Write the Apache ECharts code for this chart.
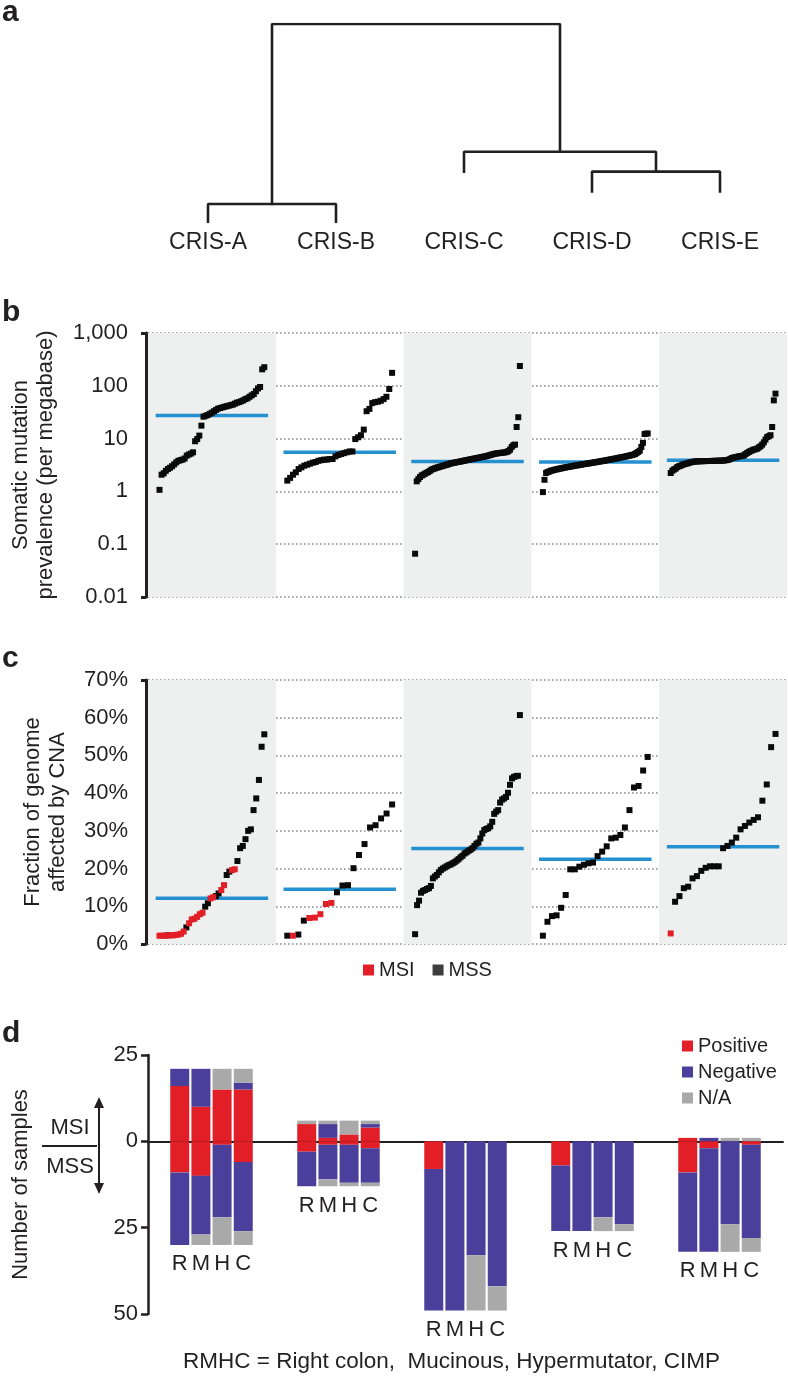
<!DOCTYPE html>
<html>
<head>
<meta charset="utf-8">
<script src="https://cdn.jsdelivr.net/npm/echarts@6/dist/echarts.min.js"></script>
<style>
html,body{margin:0;padding:0;background:#ffffff;}
#chart{width:788px;height:1379px;}
</style>
</head>
<body>
<div id="chart"></div>
<script>
// ================= DATA =================
const groups = ['CRIS-A', 'CRIS-B', 'CRIS-C', 'CRIS-D', 'CRIS-E'];

// (a) dendrogram: leaf hanging ends and merges [leftNode, rightNode, height]
const leafEnd = [0, 0, 2.8, 1.7, 1.7];
const merges = [[0, 1, 1.0], [3, 4, 2.8], [2, 6, 3.9], [5, 7, 11.0]];

// (b) somatic mutation prevalence (per megabase), sorted per subtype
const bTicks = ['0.01', '0.1', '1', '10', '100', '1,000'];
const mutA = [1.07, 2.07, 2.2, 2.45, 2.65, 2.8, 3.0, 3.25, 3.55, 3.8, 3.9, 4.0, 4.2, 4.75, 5.0, 5.2, 5.5, 8.9, 9.8, 11.4,
  17.6, 26, 27, 28, 29.5, 31, 33, 35, 37, 38, 39, 40, 41, 42, 43, 44, 46, 48, 49, 51, 53, 56, 58, 62, 66, 70, 79, 89, 95, 205, 225];
const mutB = [1.6, 1.8, 2.07, 2.3, 2.65, 2.85, 3.07, 3.2, 3.35, 3.5, 3.6, 3.8, 3.9, 4.0, 4.0, 4.1, 4.1, 4.6, 4.9, 5.1,
  5.3, 5.5, 5.7, 5.7, 9.8, 10.6, 11.6, 14.8, 33, 36.5, 47, 49, 50, 52, 56, 62, 87, 176];
const mutC = [0.066, 1.55, 1.71, 1.87, 2.0, 2.07, 2.16, 2.25, 2.33, 2.45, 2.58, 2.65, 2.73, 2.8, 2.86, 2.92, 2.98, 3.05, 3.12, 3.18,
  3.25, 3.32, 3.4, 3.45, 3.5, 3.55, 3.6, 3.65, 3.7, 3.76, 3.82, 3.88, 3.93, 3.99, 4.05, 4.11, 4.17, 4.23, 4.29, 4.35,
  4.42, 4.48, 4.55, 4.62, 4.69, 4.8, 4.9, 5.0, 5.1, 5.18, 5.27, 5.3, 5.35, 5.4, 5.43, 5.5, 5.6, 5.8, 6.2, 6.95,
  7.5, 7.7, 16.6, 25.4, 237];
const mutD = [0.97, 1.66, 2.23, 2.33, 2.38, 2.46, 2.5, 2.55, 2.6, 2.63, 2.68, 2.71, 2.76, 2.8, 2.83, 2.88, 2.9, 2.95, 2.99, 3.02,
  3.07, 3.1, 3.13, 3.18, 3.21, 3.25, 3.3, 3.32, 3.37, 3.4, 3.44, 3.49, 3.52, 3.57, 3.6, 3.65, 3.7, 3.74, 3.79, 3.83,
  3.9, 3.94, 4.0, 4.04, 4.1, 4.16, 4.2, 4.27, 4.33, 4.4, 4.45, 4.5, 4.58, 4.65, 4.72, 4.8, 4.9, 4.97, 5.1, 5.35,
  5.6, 5.9, 6.95, 8.3, 12.2, 12.4, 12.5];
const mutE = [2.23, 2.47, 2.6, 2.7, 2.9, 3.0, 3.07, 3.2, 3.27, 3.33, 3.4, 3.48, 3.55, 3.6, 3.66, 3.69, 3.71, 3.72, 3.73, 3.74,
  3.75, 3.75, 3.76, 3.77, 3.77, 3.78, 3.79, 3.8, 3.8, 3.81, 3.82, 3.83, 3.85, 3.88, 3.93, 4.0, 4.15, 4.3, 4.38, 4.45,
  4.52, 4.6, 4.66, 4.72, 4.8, 5.1, 5.35, 5.6, 5.8, 6.0, 6.2, 6.3, 6.45, 6.8, 7.15, 7.7, 8.5, 9.6, 10.7, 11.1,
  11.6, 16.6, 53, 71];
const mutMedian = [27.5, 5.5, 3.7, 3.6, 3.9];

// (c) fraction of genome affected by CNA (%), sorted; msi* = indices of MSI samples
const cTicks = ['0%', '10%', '20%', '30%', '40%', '50%', '60%', '70%'];
const cnaA = [2.2, 2.2, 2.2, 2.3, 2.3, 2.3, 2.4, 2.5, 2.7, 3.3, 4.4, 5.5, 6.5, 6.7, 7.2, 7.9, 8.3, 9.9, 10.8, 12.1,
  12.4, 12.7, 13.4, 14.3, 15.6, 18.3, 19.2, 19.6, 19.8, 22.0, 25.4, 26.0, 27.8, 30.0, 30.4, 35.5, 38.6, 43.5, 52.3, 55.6];
const msiA = [0, 1, 2, 4, 5, 6, 7, 8, 9, 11, 12, 13, 14, 15, 16, 19, 20, 23, 24, 27, 28];
const cnaB = [2.2, 2.2, 2.5, 6.2, 6.9, 7.0, 7.9, 10.6, 10.9, 13.7, 15.5, 15.6, 20.1, 23.6, 26.5, 30.9, 31.5, 33.3, 34.6, 37.0];
const msiB = [1, 4, 5, 6, 7, 8];
const cnaC = [2.6, 10.3, 11.5, 13.6, 14.1, 14.3, 14.6, 14.8, 15.4, 17.4, 17.9, 18.3, 19.0, 19.6, 20.0, 20.3, 20.6, 20.9, 21.1, 21.4,
  21.7, 22.1, 22.5, 23.0, 23.4, 24.0, 24.3, 24.7, 25.0, 25.4, 26.0, 26.6, 26.9, 28.0, 29.3, 30.2, 30.5, 30.7, 31.2, 32.4,
  34.5, 35.1, 35.5, 37.5, 38.3, 38.6, 39.0, 40.1, 42.2, 43.9, 44.3, 44.5, 44.6, 60.7];
const msiC = [];
const cnaD = [2.2, 5.9, 7.4, 7.6, 9.6, 13.0, 19.8, 19.8, 20.5, 21.0, 21.4, 21.6, 23.3, 24.5, 25.9, 28.0, 28.2, 28.9, 30.9, 35.5,
  41.5, 41.9, 46.0, 49.6];
const msiD = [];
const cnaE = [2.8, 11.2, 12.7, 14.8, 15.2, 17.4, 18.0, 19.4, 20.2, 20.6, 20.6, 20.6, 25.4, 26.0, 26.9, 28.2, 30.4, 31.3, 32.2, 32.9,
  33.6, 38.0, 42.3, 52.2, 55.7];
const msiE = [0];
const cnaMedian = [12.1, 14.5, 25.3, 22.5, 25.8];

// (d) number of samples per subtype; bars R, M, H, C
const dTicks = ['25', '0', '25', '50'];
const dLetters = ['R', 'M', 'H', 'C'];
const msiPos = [[16, 10, 15, 15], [5, 1, 2, 4], [0, 0, 0, 0], [0, 0, 0, 0], [1, 0, 0, 0]];
const msiNeg = [[5, 11, 0, 2], [0, 4, 0, 1], [0, 0, 0, 0], [0, 0, 0, 0], [0, 1, 0, 0]];
const msiNA = [[0, 0, 6, 4], [1, 1, 4, 1], [0, 0, 0, 0], [0, 0, 0, 0], [0, 0, 1, 1]];
const mssPos = [[9, 10, 1, 6], [3, 1, 1, 2], [8, 0, 0, 0], [7, 0, 0, 0], [9, 2, 0, 1]];
const mssNeg = [[21, 17, 21, 20], [10, 10, 11, 10], [41, 49, 33, 42], [19, 26, 22, 24], [23, 30, 24, 27]];
const mssNA = [[0, 3, 8, 4], [0, 2, 1, 1], [0, 0, 16, 7], [0, 0, 4, 2], [0, 0, 8, 4]];
const dLegend = ['Positive', 'Negative', 'N/A'];
const caption = 'RMHC = Right colon,  Mucinous, Hypermutator, CIMP';

// ================= STYLE =================
const font = "'Liberation Sans', Arial, Helvetica, sans-serif";
const ink = '#231f20';
const red = '#e21f26';
const purple = '#4b3f9c';
const gray = '#a9a9a9';
const blue = '#2590cf';
const shade = '#eeefef';
const dotted = { color: '#8a8a8a', type: [1.6, 2.4], width: 1.6 };

// ================= BUILD =================
function rankX(g, i, n) { return g + 0.09 + 0.82 * (n === 1 ? 0.5 : i / (n - 1)); }
const shadeCols = groups.map((g, i) => i).filter(i => i % 2 === 0);

// dendrogram
const nodeX = groups.map((g, i) => i);
const nodeH = leafEnd.slice();
const dendroSeries = merges.map(([l, r, h]) => {
  const xl = nodeX[l], xr = nodeX[r];
  const s = {
    type: 'line', xAxisIndex: 0, yAxisIndex: 0, symbol: 'none', silent: true,
    data: [[xl, nodeH[l]], [xl, h], [xr, h], [xr, nodeH[r]]],
    lineStyle: { color: ink, width: 2.6, cap: 'square' }
  };
  nodeX.push((xl + xr) / 2); nodeH.push(h);
  return s;
});

// panel b
const mutGroups = [mutA, mutB, mutC, mutD, mutE];
const bPoints = [];
mutGroups.forEach((arr, g) => arr.forEach((v, i) => bPoints.push([rankX(g, i, arr.length), v])));

// panel c
const cnaGroups = [cnaA, cnaB, cnaC, cnaD, cnaE];
const msiGroups = [msiA, msiB, msiC, msiD, msiE];
const cMSI = [], cMSS = [];
cnaGroups.forEach((arr, g) => arr.forEach((v, i) => {
  const p = [rankX(g, i, arr.length), v];
  (msiGroups[g].includes(i) ? cMSI : cMSS).push(p);
}));

function medianSeries(meds, xi, yi) {
  return meds.map((m, g) => ({
    type: 'line', xAxisIndex: xi, yAxisIndex: yi, symbol: 'none', silent: true, z: 1,
    data: [[g + 0.06, m], [g + 0.94, m]],
    lineStyle: { color: blue, width: 3.5 }
  }));
}
function shadeSeries(xi, yi) {
  return {
    type: 'scatter', xAxisIndex: xi, yAxisIndex: yi, data: [], silent: true, z: -1,
    markArea: { silent: true, itemStyle: { color: shade }, data: shadeCols.map(g => [{ xAxis: g }, { xAxis: g + 1 }]) }
  };
}

// panel d
const dCats = [];
groups.forEach(g => { dCats.push(g + ' L'); dLetters.forEach(l => dCats.push(g + ' ' + l)); dCats.push(g + ' R_'); });
function slotData(arr, sign) {
  const out = [];
  arr.forEach(grp => { out.push('-'); grp.forEach(v => out.push(sign * v)); out.push('-'); });
  return out;
}
const dSeries = [
  [dLegend[0], msiPos, -1, red], [dLegend[1], msiNeg, -1, purple], [dLegend[2], msiNA, -1, gray],
  [dLegend[0], mssPos, 1, red], [dLegend[1], mssNeg, 1, purple], [dLegend[2], mssNA, 1, gray]
].map(([name, arr, sign, color]) => ({
  type: 'bar', name, xAxisIndex: 4, yAxisIndex: 5, stack: 'd', barWidth: 19,
  data: slotData(arr, sign), itemStyle: { color }, silent: true
}));
const letterData = [];
groups.forEach((g, gi) => dLetters.forEach((l, li) => {
  const tot = mssPos[gi][li] + mssNeg[gi][li] + mssNA[gi][li];
  letterData.push({ value: [g + ' ' + l, tot], label: { formatter: l } });
}));

const axisText = { fontSize: 22, color: ink, fontFamily: font };
const nameText = { fontSize: 22, color: ink, fontFamily: font, lineHeight: 25 };
function endTickAxis(gi) {
  return {
    gridIndex: gi, type: 'value', position: 'left', offset: 2, min: 0, max: 1, interval: 1,
    axisLine: { show: true, lineStyle: { color: ink, width: 3 } },
    axisTick: { show: true, length: 5, lineStyle: { color: ink, width: 3 } },
    axisLabel: { show: false }, splitLine: { show: false }
  };
}
const letterTitle = (t, top) => ({ text: t, left: 2, top, padding: 0, textStyle: { fontSize: 30, fontWeight: 'bold', color: ink, fontFamily: font } });
const pointStyle = c => ({ color: c, opacity: 1 });

const option = {
  animation: false,
  backgroundColor: '#ffffff',
  textStyle: { fontFamily: font },
  title: [
    letterTitle('a', -2), letterTitle('b', 298), letterTitle('c', 644), letterTitle('d', 1019),
    { text: caption, left: 183, top: 1350, padding: 0, textStyle: { fontSize: 22.5, fontWeight: 'normal', color: ink, fontFamily: font } }
  ],
  grid: [
    { left: 144, right: 4, top: 24, height: 198 },
    { left: 148, right: 1, top: 333, height: 264 },
    { left: 148, right: 1, top: 680, height: 264 },
    { left: 143, right: 5, top: 1055, height: 259 }
  ],
  xAxis: [
    { gridIndex: 0, type: 'value', min: -0.5, max: 4.5, show: false },
    { gridIndex: 0, type: 'category', data: groups, position: 'bottom',
      axisLine: { show: false }, axisTick: { show: false },
      axisLabel: { fontSize: 23, color: ink, fontFamily: font, margin: 9 } },
    { gridIndex: 1, type: 'value', min: 0, max: 5, show: false },
    { gridIndex: 2, type: 'value', min: 0, max: 5, show: false },
    { gridIndex: 3, type: 'category', data: dCats,
      axisLine: { show: true, onZero: true, lineStyle: { color: ink, width: 2 } },
      axisTick: { show: false }, axisLabel: { show: false } }
  ],
  yAxis: [
    { gridIndex: 0, type: 'value', min: 0, max: 11, show: false },
    { gridIndex: 1, type: 'log', logBase: 10, min: 0.01, max: 1000,
      axisLine: { show: false }, axisTick: { show: false },
      axisLabel: Object.assign({ margin: 20, formatter: v => bTicks[Math.round(Math.log10(v)) + 2] }, axisText),
      splitLine: { show: true, lineStyle: dotted },
      name: 'Somatic mutation\nprevalence (per megabase)', nameLocation: 'middle', nameRotate: 90, nameGap: 90,
      nameTextStyle: nameText },
    endTickAxis(1),
    { gridIndex: 2, type: 'value', min: 0, max: 70, interval: 10,
      axisLine: { show: false }, axisTick: { show: false },
      axisLabel: Object.assign({ margin: 20, formatter: v => cTicks[Math.round(v / 10)] }, axisText),
      splitLine: { show: true, lineStyle: dotted },
      name: 'Fraction of genome\naffected by CNA', nameLocation: 'middle', nameRotate: 90, nameGap: 78,
      nameTextStyle: nameText },
    endTickAxis(2),
    { gridIndex: 3, type: 'value', inverse: true, min: -25, max: 50, interval: 25,
      axisLine: { show: true, lineStyle: { color: ink, width: 2.5 } },
      axisTick: { show: true, length: 7, lineStyle: { color: ink, width: 2.5 } },
      axisLabel: Object.assign({ margin: 10, formatter: v => dTicks[Math.round((v + 25) / 25)] }, axisText),
      splitLine: { show: false },
      name: 'Number of samples', nameLocation: 'middle', nameRotate: 90, nameGap: 115,
      nameTextStyle: nameText }
  ],
  legend: [
    { data: [{ name: 'MSI', icon: 'rect' }, { name: 'MSS', icon: 'rect', itemStyle: { color: '#3d3d3d' } }],
      left: 363, top: 960, padding: 0, itemWidth: 11, itemHeight: 11, itemGap: 18, selectedMode: false,
      textStyle: { fontSize: 20, color: ink, fontFamily: font } },
    { data: dLegend.map(n => ({ name: n, icon: 'rect' })), orient: 'vertical',
      left: 682, top: 1036, padding: 0, itemWidth: 11, itemHeight: 11, itemGap: 6, selectedMode: false,
      textStyle: { fontSize: 20, color: ink, fontFamily: font } }
  ],
  series: [
    ...dendroSeries,
    shadeSeries(2, 1),
    ...medianSeries(mutMedian, 2, 1),
    { type: 'scatter', name: 'mutation', xAxisIndex: 2, yAxisIndex: 1, data: bPoints, symbol: 'rect', symbolSize: 6,
      itemStyle: pointStyle('#0a0a0a'), silent: true, z: 3 },
    shadeSeries(3, 3),
    ...medianSeries(cnaMedian, 3, 3),
    { type: 'scatter', name: 'MSS', xAxisIndex: 3, yAxisIndex: 3, data: cMSS, symbol: 'rect', symbolSize: 6,
      itemStyle: pointStyle('#0a0a0a'), silent: true, z: 3 },
    { type: 'scatter', name: 'MSI', xAxisIndex: 3, yAxisIndex: 3, data: cMSI, symbol: 'rect', symbolSize: 6,
      itemStyle: pointStyle(red), silent: true, z: 4 },
    ...dSeries,
    { type: 'scatter', name: 'letters', xAxisIndex: 4, yAxisIndex: 5, data: letterData, symbolSize: 1,
      itemStyle: { color: 'rgba(0,0,0,0)', opacity: 1 }, silent: true,
      label: { show: true, position: 'bottom', distance: 8, fontSize: 22, color: ink, opacity: 1, fontFamily: font } }
  ],
  graphic: [
    { type: 'text', x: 70, y: 1128, style: { text: 'MSI', font: '22px ' + font, fill: ink, align: 'center', verticalAlign: 'middle', textAlign: 'center', textVerticalAlign: 'middle' } },
    { type: 'text', x: 70, y: 1167, style: { text: 'MSS', font: '22px ' + font, fill: ink, align: 'center', verticalAlign: 'middle', textAlign: 'center', textVerticalAlign: 'middle' } },
    { type: 'line', shape: { x1: 42, y1: 1146, x2: 97, y2: 1146 }, style: { stroke: ink, lineWidth: 2 } },
    { type: 'line', shape: { x1: 99, y1: 1104, x2: 99, y2: 1187 }, style: { stroke: ink, lineWidth: 2 } },
    { type: 'polygon', shape: { points: [[99, 1097], [94, 1108], [104, 1108]] }, style: { fill: ink } },
    { type: 'polygon', shape: { points: [[99, 1194], [94, 1183], [104, 1183]] }, style: { fill: ink } }
  ]
};

const chart = echarts.init(document.getElementById('chart'), null, { renderer: 'canvas' });
chart.setOption(option);
</script>
</body>
</html>
